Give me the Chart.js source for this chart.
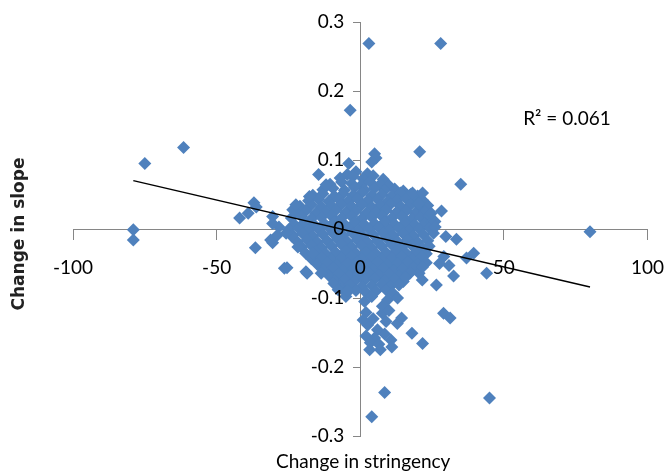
<!DOCTYPE html>
<html>
<head>
<meta charset="utf-8">
<script src="https://cdn.jsdelivr.net/npm/chart.js@4.4.1/dist/chart.umd.min.js"></script>
<style>
  html, body { margin: 0; padding: 0; background: #fff; }
  canvas { display: block; }
</style>
</head>
<body>
<canvas id="chart" width="664" height="476"></canvas>
<script>
// axis labels and annotation
const xTitle = 'Change in stringency';
const yTitle = 'Change in slope';
const r2Label = 'R\u00B2 = 0.061';

// linear trend (y = a*x + b)
const trendSlope = -0.00097;
const trendIntercept = -0.0065;

// isolated points [stringency, slope]
const outliers = [
  [3, 0.269], [28, 0.269], [-3.5, 0.172], [-61.5, 0.118], [-75, 0.095],
  [20.7, 0.112], [5, 0.109], [5.5, 0.103], [4, 0.097], [-14.5, 0.079],
  [-4, 0.095], [35, 0.065], [-37, 0.038], [-36.2, 0.032], [-39, 0.023],
  [-42, 0.016], [-79, -0.001], [-79, -0.016], [80, -0.004], [-36.5, -0.027],
  [-30.5, -0.02], [-25.5, -0.056], [-18.5, -0.064], [44, -0.064], [39.5, -0.035],
  [37, -0.042], [33.5, -0.015], [32.5, -0.068], [26.5, -0.081], [29, -0.122],
  [31.3, -0.129], [18, -0.151], [21.7, -0.166], [8.5, -0.237], [4, -0.272],
  [45, -0.245], [28.3, 0.026], [26, 0.011], [24.7, 0.023], [26.1, 0.003],
  [29.8, -0.011], [29.1, -0.04], [27.6, -0.05], [30.9, -0.053], [-30.5, 0.018],
  [-28.3, 0.003], [-31.2, -0.016], [-28.9, -0.009], [-30.5, 0.008], [-25.8, -0.006],
  [-23.5, 0.028], [-22.4, 0.035], [-17.7, 0.047], [-11.9, 0.064], [18.2, 0.052],
  [21.6, 0.042], [21.7, 0.052], [20.2, 0.037]
];

// lower tail under the main cloud
const tail = [
  [2.6, -0.139], [7, -0.175], [3.3, -0.175], [7.7, -0.122], [12.9, -0.137],
  [14.4, -0.129], [10.7, -0.161], [7.7, -0.112], [11.4, -0.093], [1.5, -0.105],
  [2, -0.121], [4.5, -0.13], [6, -0.146], [9, -0.134], [5, -0.158],
  [2, -0.155], [8.5, -0.152], [11, -0.171], [3.5, -0.165], [9.5, -0.103],
  [4, -0.098], [13, -0.1], [10, -0.118], [6.5, -0.167], [1, -0.132]
];

// ragged edges of the main cloud
const edges = [
  [-9.2, -0.079], [-13.6, -0.064], [-16.5, -0.035], [-21.7, -0.026], [-23.9, -0.01],
  [-7.7, -0.088], [-4.8, -0.093], [17.3, -0.064], [21.7, -0.055], [15.8, -0.07],
  [21.6, -0.074], [-26.4, -0.057], [-18.9, -0.062], [-5, -0.098], [-4.4, -0.089]
];

// dense central cloud
const core = [
  [-1.5, 0.083], [2.5, 0.080], [-4.5, 0.079],
  [-7, 0.074], [-2.5, 0.076], [1, 0.073], [4.5, 0.077], [8, 0.072],
  [-10.5, 0.065], [-6.5, 0.068], [-3, 0.066], [0.5, 0.064], [3.5, 0.068], [7, 0.065], [10, 0.063],
  [-13, 0.057], [-9.5, 0.059], [-5.5, 0.056], [-2, 0.06], [1.5, 0.057], [5, 0.059], [8.5, 0.056], [12, 0.058], [15, 0.055],
  [-16.5, 0.049], [-13, 0.051], [-9, 0.048], [-6, 0.051], [-2.5, 0.049], [0.5, 0.052], [4, 0.049], [7.5, 0.05], [11, 0.048], [14, 0.052], [17.5, 0.05], [20, 0.048],
  [-18, 0.041], [-14.5, 0.043], [-11, 0.04], [-7.5, 0.043], [-4, 0.041], [-1, 0.044], [2.5, 0.041], [6, 0.043], [9.5, 0.04], [13, 0.042], [16, 0.044], [19, 0.041], [22, 0.04],
  [-21, 0.033], [-17, 0.035], [-13.5, 0.032], [-10, 0.034], [-6.5, 0.036], [-3, 0.033], [0.5, 0.035], [4, 0.032], [7, 0.034], [10.5, 0.036], [14, 0.033], [17.5, 0.035], [21, 0.032], [23.5, 0.034],
  [-22.5, 0.024], [-19, 0.026], [-15.5, 0.023], [-12, 0.025], [-8.5, 0.027], [-5, 0.024], [-1.5, 0.026], [2, 0.023], [5.5, 0.025], [9, 0.027], [12.5, 0.024], [16, 0.026], [19, 0.023], [22.5, 0.025],
  [-24, 0.016], [-20.5, 0.018], [-17, 0.015], [-13.5, 0.017], [-10, 0.019], [-6.5, 0.016], [-3, 0.018], [0.5, 0.015], [4, 0.017], [7.5, 0.019], [11, 0.016], [14.5, 0.018], [18, 0.015], [21, 0.017], [24, 0.019],
  [-23, 0.007], [-19.5, 0.009], [-16, 0.006], [-12.5, 0.008], [-9, 0.01], [-5.5, 0.007], [-2, 0.009], [1.5, 0.006], [5, 0.008], [8.5, 0.01], [12, 0.007], [15.5, 0.009], [19, 0.006], [22.5, 0.008], [25, 0.01],
  [-25, -0.001], [-21.5, 0.001], [-18, -0.002], [-14.5, 0], [-11, 0.002], [-7.5, -0.001], [-4, 0.001], [-0.5, -0.002], [3, 0], [6.5, 0.002], [10, -0.001], [13.5, 0.001], [17, -0.002], [20.5, 0], [24, 0.002],
  [-23.5, -0.009], [-20, -0.007], [-16.5, -0.01], [-13, -0.008], [-9.5, -0.006], [-6, -0.009], [-2.5, -0.007], [1, -0.01], [4.5, -0.008], [8, -0.006], [11.5, -0.009], [15, -0.007], [18.5, -0.01], [22, -0.008], [25.5, -0.006],
  [-22, -0.018], [-18.5, -0.016], [-15, -0.019], [-11.5, -0.017], [-8, -0.015], [-4.5, -0.018], [-1, -0.016], [2.5, -0.019], [6, -0.017], [9.5, -0.015], [13, -0.018], [16.5, -0.016], [20, -0.019], [23.5, -0.017],
  [-20.5, -0.026], [-17, -0.024], [-13.5, -0.027], [-10, -0.025], [-6.5, -0.023], [-3, -0.026], [0.5, -0.024], [4, -0.027], [7.5, -0.025], [11, -0.023], [14.5, -0.026], [18, -0.024], [21.5, -0.027], [24, -0.025],
  [-19, -0.035], [-15.5, -0.033], [-12, -0.036], [-8.5, -0.034], [-5, -0.032], [-1.5, -0.035], [2, -0.033], [5.5, -0.036], [9, -0.034], [12.5, -0.032], [16, -0.035], [19.5, -0.033], [23, -0.036],
  [-17, -0.043], [-13.5, -0.041], [-10, -0.044], [-6.5, -0.042], [-3, -0.04], [0.5, -0.043], [4, -0.041], [7.5, -0.044], [11, -0.042], [14.5, -0.04], [18, -0.043], [21.5, -0.041],
  [-15, -0.051], [-11.5, -0.049], [-8, -0.052], [-4.5, -0.05], [-1, -0.048], [2.5, -0.051], [6, -0.049], [9.5, -0.052], [13, -0.05], [16.5, -0.048], [20, -0.051], [23, -0.049],
  [-13, -0.059], [-9.5, -0.057], [-6, -0.06], [-2.5, -0.058], [1, -0.056], [4.5, -0.059], [8, -0.057], [11.5, -0.06], [15, -0.058], [18.5, -0.056],
  [-11, -0.067], [-7.5, -0.065], [-4, -0.068], [-0.5, -0.066], [3, -0.064], [6.5, -0.067], [10, -0.065], [13.5, -0.068], [16.5, -0.066], [20.5, -0.064],
  [-9, -0.075], [-5.5, -0.073], [-2, -0.076], [1.5, -0.074], [5, -0.072], [8.5, -0.075], [12, -0.073], [15, -0.076],
  [-7, -0.083], [-3.5, -0.081], [0.5, -0.084], [4, -0.082], [7.5, -0.08], [10.5, -0.083], [13.5, -0.081],
  [-5, -0.091], [-1.5, -0.089], [2, -0.092], [5.5, -0.09], [9, -0.088]
];

const points = core.concat(edges, tail, outliers).map(p => ({ x: p[0], y: p[1] }));

// trend line drawn across the data range
const xs = points.map(p => p.x);
const xMin = Math.min(...xs);
const xMax = Math.max(...xs);
const trend = [
  { x: xMin, y: trendSlope * xMin + trendIntercept },
  { x: xMax, y: trendSlope * xMax + trendIntercept }
];

const labelFamily = "Lato, 'Liberation Sans', sans-serif";
const tickFont = { family: labelFamily, size: 19 };

const extraText = {
  id: 'extraText',
  afterDraw(chart) {
    const ctx = chart.ctx;
    const area = chart.chartArea;
    ctx.save();
    ctx.fillStyle = '#000';
    ctx.textAlign = 'center';
    ctx.textBaseline = 'middle';

    ctx.font = '19px ' + labelFamily;
    ctx.fillText(xTitle, (area.left + area.right) / 2 + 3, 462);
    ctx.fillText(r2Label, 567, 119);

    ctx.font = "bold 17px 'DejaVu Sans', sans-serif";
    ctx.fillStyle = '#222';
    ctx.translate(20, 234);
    ctx.rotate(-Math.PI / 2);
    ctx.fillText(yTitle, 0, 0);
    ctx.restore();
  }
};

// axis lines and tick marks sit under the points, the numbers sit on top
const lineGrid = { drawOnChartArea: false, drawTicks: true, color: '#868686' };

const ctx = document.getElementById('chart').getContext('2d');
new Chart(ctx, {
  type: 'scatter',
  data: {
    datasets: [
      {
        type: 'line',
        data: trend,
        borderColor: '#000',
        borderWidth: 1.5,
        pointRadius: 0,
        fill: false,
        order: 0
      },
      {
        data: points,
        pointStyle: 'rectRot',
        pointRadius: 6.5,
        pointBackgroundColor: '#4F81BD',
        pointBorderColor: '#4F81BD',
        pointBorderWidth: 0,
        order: 1
      }
    ]
  },
  options: {
    responsive: false,
    animation: false,
    layout: { padding: { left: 73, right: 15, top: 22, bottom: 40 } },
    plugins: {
      legend: { display: false },
      tooltip: { enabled: false }
    },
    scales: {
      x: {
        type: 'linear',
        position: 'center',
        min: -100,
        max: 100,
        ticks: { stepSize: 50, display: false, padding: 0 },
        grid: Object.assign({ tickLength: 10 }, lineGrid),
        border: { color: '#868686', width: 1 }
      },
      y: {
        type: 'linear',
        position: 'center',
        min: -0.3,
        max: 0.3,
        ticks: { stepSize: 0.1, display: false, padding: 0 },
        grid: Object.assign({ tickLength: 7 }, lineGrid),
        border: { color: '#868686', width: 1 }
      },
      xNum: {
        type: 'linear',
        axis: 'x',
        position: 'center',
        min: -100,
        max: 100,
        ticks: { stepSize: 50, color: '#000', font: tickFont, padding: 0, maxRotation: 0, z: 1 },
        grid: { display: false, drawTicks: true, tickLength: 27 },
        border: { display: false }
      },
      yNum: {
        type: 'linear',
        axis: 'y',
        position: 'center',
        min: -0.3,
        max: 0.3,
        ticks: {
          stepSize: 0.1,
          color: '#000',
          font: tickFont,
          padding: 0,
          z: 1,
          callback: v => Math.abs(v) < 1e-9 ? '0' : (Math.round(v * 10) / 10).toString()
        },
        grid: { display: false, drawTicks: true, tickLength: 16 },
        border: { display: false }
      }
    }
  },
  plugins: [extraText]
});
</script>
</body>
</html>
